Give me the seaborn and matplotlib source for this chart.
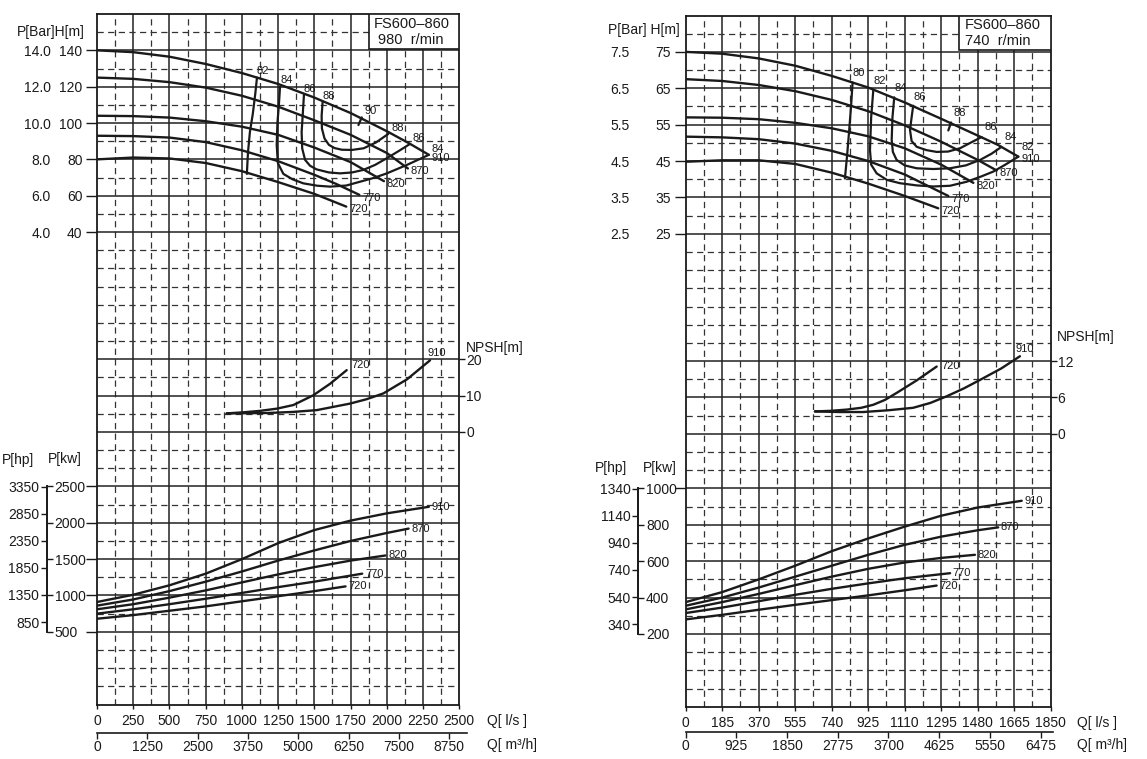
import numpy as np
import pandas as pd
import seaborn as sns
import matplotlib.pyplot as plt
from matplotlib.patches import Rectangle
from matplotlib.ticker import FormatStrFormatter

# ---------------- left chart, 980 r/min ----------------
L_H910_Q = [0, 250, 500, 750, 1000, 1250, 1500, 1750, 2000, 2150, 2290]
L_H910 = [140, 139, 136.5, 132.5, 127.5, 121.5, 114, 105.5, 95.5, 89, 82.5]
L_H870_Q = [0, 250, 500, 750, 1000, 1250, 1500, 1750, 2000, 2145]
L_H870 = [125, 124.3, 122.5, 119.5, 115, 109, 101.5, 93.5, 83.5, 75]
L_H820_Q = [0, 250, 500, 750, 1000, 1250, 1500, 1750, 1980]
L_H820 = [104, 103.8, 103, 101, 98, 93.5, 86.5, 78.5, 68]
L_H770_Q = [0, 250, 500, 750, 1000, 1250, 1500, 1650, 1810]
L_H770 = [93, 92.8, 92, 89.5, 85, 79, 71.5, 66.5, 60.5]
L_H720_Q = [0, 250, 500, 750, 1000, 1250, 1500, 1720]
L_H720 = [80, 81, 80.5, 78, 73.5, 67.5, 61, 54]

L_E82_Q = [1104, 1092, 1075, 1055, 1042, 1034]
L_E82 = [125, 116, 105, 95, 84, 72]
L_E84_Q = [1263, 1255, 1245, 1240, 1248, 1286, 1350, 1424, 1520, 1608, 1720, 1815, 1910, 2000, 2140, 2290]
L_E84 = [120, 110, 100, 88, 78, 72, 69, 66.8, 65.5, 65, 65.6, 67.7, 69.8, 72.3, 77, 82.5]
L_E86_Q = [1428, 1420, 1412, 1416, 1436, 1470, 1515, 1600, 1677, 1760, 1838, 1920, 1999, 2080, 2160]
L_E86 = [115.5, 105, 95, 86, 79.7, 76.5, 74.5, 72.8, 72.3, 72.8, 74.2, 77, 80.6, 84.5, 88.5]
L_E88_Q = [1557, 1550, 1552, 1570, 1600, 1640, 1690, 1760, 1840, 1925, 2010]
L_E88 = [111.7, 104, 97, 91.5, 88, 86.2, 85.3, 85.2, 86.1, 89.3, 94]
L_E90_Q = [1804, 1827]
L_E90 = [98.9, 103.1]

L_N720_Q = [895, 1010, 1125, 1240, 1355, 1493, 1610, 1723]
L_N720 = [5.1, 5.4, 5.8, 6.4, 7.4, 10.1, 13.3, 17]
L_N910_Q = [895, 1171, 1350, 1516, 1746, 1860, 1976, 2140, 2298]
L_N910 = [5.1, 5.2, 5.5, 6.0, 7.8, 9.0, 10.6, 14.5, 19.7]

L_P910_Q = [0, 250, 500, 750, 1000, 1250, 1500, 1750, 2000, 2290]
L_P910 = [910, 1010, 1140, 1300, 1500, 1720, 1900, 2030, 2130, 2220]
L_P870_Q = [0, 250, 500, 750, 1000, 1250, 1500, 1750, 2000, 2150]
L_P870 = [860, 945, 1060, 1190, 1330, 1480, 1620, 1750, 1860, 1920]
L_P820_Q = [0, 250, 500, 750, 1000, 1250, 1500, 1750, 1990]
L_P820 = [810, 880, 970, 1070, 1180, 1290, 1390, 1480, 1550]
L_P770_Q = [0, 250, 500, 750, 1000, 1250, 1500, 1830]
L_P770 = [750, 810, 880, 955, 1035, 1115, 1190, 1300]
L_P720_Q = [0, 250, 500, 750, 1000, 1250, 1500, 1715]
L_P720 = [680, 730, 790, 850, 920, 990, 1060, 1125]

L_Q_TICKS = [0, 250, 500, 750, 1000, 1250, 1500, 1750, 2000, 2250, 2500]
L_M3H_TICKS = [0, 1250, 2500, 3750, 5000, 6250, 7500, 8750]
L_H_TICKS = [140, 120, 100, 80, 60, 40]
L_BAR_TICKS = [14, 12, 10, 8, 6, 4]
L_NPSH_TICKS = [0, 10, 20]
L_KW_TICKS = [500, 1000, 1500, 2000, 2500]
L_HP_TICKS = [850, 1350, 1850, 2350, 2850, 3350]

# ---------------- right chart, 740 r/min ----------------
R_H910_Q = [0, 185, 370, 555, 740, 925, 1110, 1295, 1480, 1580, 1686]
R_H910 = [75, 74.5, 73.2, 71.2, 68.4, 65.2, 61.1, 56.6, 52, 49.5, 46.2]
R_H870_Q = [0, 185, 370, 555, 740, 925, 1110, 1295, 1480, 1576]
R_H870 = [67.5, 67, 65.9, 64.2, 61.8, 58.7, 54.8, 50.3, 45.3, 42.4]
R_H820_Q = [0, 185, 370, 555, 740, 925, 1110, 1295, 1458]
R_H820 = [57, 56.9, 56.5, 55.5, 54, 51.8, 48.5, 44, 39]
R_H770_Q = [0, 185, 370, 555, 740, 925, 1110, 1331]
R_H770 = [51.7, 51.5, 51, 49.8, 47.8, 45, 41.3, 35.4]
R_H720_Q = [0, 185, 370, 555, 740, 925, 1110, 1280]
R_H720 = [44.8, 45.2, 45.2, 44.2, 41.8, 38.8, 35.4, 32]

R_E80_Q = [846, 838, 828, 818, 807]
R_E80 = [66.6, 60, 53, 46.5, 40.2]
R_E82_Q = [951, 940, 934, 940, 968, 1020, 1086, 1170, 1255, 1340, 1424, 1500, 1559, 1620, 1686]
R_E82 = [64.6, 57, 48, 44, 41.6, 39.8, 38.9, 38.3, 38, 38.2, 39.3, 40.8, 42.1, 44, 46.2]
R_E84_Q = [1057, 1048, 1044, 1050, 1069, 1110, 1171, 1255, 1339, 1420, 1492, 1550, 1601]
R_E84 = [62.5, 57, 50.8, 47.5, 45.3, 43.8, 43, 42.8, 43, 43.8, 45.3, 47, 48.9]
R_E86_Q = [1153, 1145, 1137, 1145, 1171, 1220, 1272, 1330, 1390, 1450, 1500]
R_E86 = [60.2, 57, 53.5, 50.5, 48.9, 48, 47.5, 47.6, 48.5, 50.2, 51.6]
R_E88_Q = [1331, 1345]
R_E88 = [53.4, 55.6]

R_N720_Q = [655, 735, 816, 890, 951, 1010, 1069, 1170, 1272]
R_N720 = [3.7, 3.8, 4.0, 4.3, 4.8, 5.6, 6.75, 8.8, 11.1]
R_N910_Q = [655, 780, 900, 1030, 1153, 1240, 1323, 1410, 1492, 1600, 1694]
R_N910 = [3.7, 3.6, 3.6, 3.9, 4.3, 5.1, 6.2, 7.5, 8.9, 10.8, 12.8]

R_P910_Q = [0, 185, 370, 555, 740, 925, 1110, 1295, 1480, 1600, 1703]
R_P910 = [375, 430, 500, 575, 655, 725, 790, 850, 895, 915, 932]
R_P870_Q = [0, 185, 370, 555, 740, 925, 1110, 1295, 1480, 1584]
R_P870 = [355, 400, 455, 515, 575, 635, 690, 735, 770, 786]
R_P820_Q = [0, 185, 370, 555, 740, 925, 1110, 1295, 1466]
R_P820 = [335, 375, 420, 468, 515, 558, 593, 618, 635]
R_P770_Q = [0, 185, 370, 555, 740, 925, 1110, 1340]
R_P770 = [315, 345, 380, 415, 448, 478, 506, 534]
R_P720_Q = [0, 185, 370, 555, 740, 925, 1110, 1272]
R_P720 = [280, 305, 333, 360, 386, 412, 440, 466]

R_Q_TICKS = [0, 185, 370, 555, 740, 925, 1110, 1295, 1480, 1665, 1850]
R_M3H_TICKS = [0, 925, 1850, 2775, 3700, 4625, 5550, 6475]
R_H_TICKS = [75, 65, 55, 45, 35, 25]
R_BAR_TICKS = [7.5, 6.5, 5.5, 4.5, 3.5, 2.5]
R_NPSH_TICKS = [0, 6, 12]
R_KW_TICKS = [200, 400, 600, 800, 1000]
R_HP_TICKS = [340, 540, 740, 940, 1140, 1340]

HP_PER_KW = 1.341
M3H_PER_LS = 3.6

sns.set_theme(style='white')
plt.rcParams['font.family'] = ['Liberation Sans', 'DejaVu Sans']

W, HT = 1147, 759
fig = plt.figure(figsize=(W / 100, HT / 100), dpi=100)

INK = '#1a1a1a'
FS = 10
FSS = 8
ROWS = 38
SOLID_ROWS = {2, 4, 6, 8, 10, 12, 19, 21, 23, 26, 28, 30, 32, 34}


def ftext(x, y, s, **kw):
    fig.text(x / W, 1 - y / HT, s, color=INK, **kw)


def curves_df(curves):
    parts = [pd.DataFrame({'curve': k, 'Q': q, 'v': v}) for k, (q, v) in curves.items()]
    return pd.concat(parts, ignore_index=True)


def draw_lines(ax, curves, lw=1.7):
    sns.lineplot(data=curves_df(curves), x='Q', y='v', units='curve', estimator=None,
                 sort=False, color=INK, lw=lw, legend=False, ax=ax)
    ax.set_xlabel('')
    ax.set_ylabel('')


def tag(ax, curves, where, dx, dy, va='center'):
    for k, (q, v) in curves.items():
        i = -1 if where == 'end' else 0
        ax.annotate(k, (q[i], v[i]), xytext=(dx, dy), textcoords='offset points',
                    fontsize=FSS, ha='left', va=va, color=INK)


def chart(s):
    x0, y0, x1, y1 = s['px']
    pos = [x0 / W, 1 - y1 / HT, (x1 - x0) / W, (y1 - y0) / HT]
    qmax = s['q_ticks'][-1]
    axH = fig.add_axes(pos)
    axN = fig.add_axes(pos)
    axP = fig.add_axes(pos)

    draw_lines(axH, s['head'])
    draw_lines(axH, s['eff'], lw=1.6)
    draw_lines(axN, s['npsh'])
    draw_lines(axP, s['power'])

    htop, hstep = s['htop'], s['hstep']
    axH.set_ylim(htop - ROWS * hstep, htop)
    axN.set_ylim(-15 * s['nstep'], 23 * s['nstep'])
    axP.set_ylim(s['pbase'] - 4 * s['pstep'], s['pbase'] + 34 * s['pstep'])
    for ax in (axH, axN, axP):
        ax.set_xlim(0, qmax)
    for ax in (axN, axP):
        ax.patch.set_visible(False)
        for sp in ax.spines.values():
            sp.set_visible(False)
        ax.tick_params(bottom=False, labelbottom=False, left=False, labelleft=False)

    # grid: solid every major step, dashed between
    qt = s['q_ticks']
    half = (qt[1] - qt[0]) / 2
    for q in qt[1:-1]:
        axH.axvline(q, color='#222', lw=1.1, zorder=1)
    for q in qt[:-1]:
        axH.axvline(q + half, color='#333', lw=0.9, ls=(0, (5, 3.5)), zorder=1)
    for r in range(1, ROWS):
        y = htop - r * hstep
        if r in SOLID_ROWS:
            axH.axhline(y, color='#222', lw=1.1, zorder=1)
        else:
            axH.axhline(y, color='#333', lw=0.9, ls=(0, (5, 3.5)), zorder=1)
    for sp in axH.spines.values():
        sp.set_visible(True)
        sp.set_color(INK)
        sp.set_linewidth(1.3)

    # model box
    qb = qmax * 0.75
    hb = htop - 1.9 * hstep
    axH.add_patch(Rectangle((qb, hb), qmax - qb, htop - hb, facecolor='white',
                            edgecolor=INK, lw=1.2, zorder=3))

    # head axis + bar labels
    axH.set_yticks(s['h_ticks'])
    axH.tick_params(axis='y', left=True, length=s['htick'], width=1, color=INK,
                    pad=2.5, labelsize=FS, labelcolor=INK)
    bar = axH.secondary_yaxis(s['bar_loc'], functions=(lambda h: h / 10, lambda b: b * 10))
    bar.set_yticks(s['bar_ticks'])
    bar.yaxis.set_major_formatter(FormatStrFormatter('%.1f'))
    bar.tick_params(length=0, pad=0, labelsize=FS, labelcolor=INK)
    bar.spines['left'].set_visible(False)

    # flow axes
    axH.set_xticks(qt)
    axH.tick_params(axis='x', bottom=True, length=3, width=1, color=INK, pad=3.5,
                    labelsize=FS, labelcolor=INK)
    m3 = axH.secondary_xaxis(s['m3_loc'], functions=(lambda q: q * M3H_PER_LS,
                                                    lambda m: m / M3H_PER_LS))
    m3.set_xticks(s['m3_ticks'])
    m3.spines['bottom'].set_bounds(0, s['m3_end'])
    m3.spines['bottom'].set_linewidth(1.2)
    m3.spines['bottom'].set_color(INK)
    m3.tick_params(length=4, width=1, color=INK, pad=0.5, labelsize=FS, labelcolor=INK)

    # NPSH axis
    axN.set_yticks(s['npsh_ticks'])
    axN.tick_params(axis='y', right=True, labelright=True, length=4, width=1,
                    color=INK, pad=1, labelsize=FS, labelcolor=INK)

    # power axes: grid-side ticks, then kW / hp bracket
    kw_t = s['kw_ticks']
    axP.set_yticks(s['kw_grid_ticks'])
    axP.tick_params(axis='y', left=True, labelleft=False, length=8, width=1, color=INK)
    kw = axP.secondary_yaxis(s['brk_loc'])
    kw.set_alignment('right')
    kw.set_yticks(kw_t)
    kw.spines['right'].set_bounds(kw_t[0], kw_t[-1])
    kw.spines['right'].set_color(INK)
    kw.tick_params(direction='out', length=4.5, width=1, color=INK, pad=1,
                   labelsize=FS, labelcolor=INK)
    hp = axP.secondary_yaxis(s['brk_loc'], functions=(lambda p: p * HP_PER_KW,
                                                     lambda h: h / HP_PER_KW))
    hp.set_yticks(s['hp_ticks'])
    hp.spines['left'].set_bounds(kw_t[0] * HP_PER_KW, kw_t[-1] * HP_PER_KW)
    hp.spines['left'].set_color(INK)
    hp.tick_params(direction='out', length=4.5, width=1, color=INK, pad=1,
                   labelsize=FS, labelcolor=INK)

    # curve tags
    tag(axH, s['head'], 'end', 2, -2)
    tag(axH, s['eff_top'], 'start', 0, s['top_dy'])
    tag(axH, s['eff_end'], 'end', 2, s['end_dy'])
    for k, (q, v) in s['npsh'].items():
        dx, dy = s['npsh_off'][k]
        axN.annotate(k, (q[-1], v[-1]), xytext=(dx, dy), textcoords='offset points',
                     fontsize=FSS, ha='left', va='center', color=INK)
    tag(axP, s['power'], 'end', 2, 0)


left = dict(
    px=(97, 14, 459.3, 704.5), q_ticks=L_Q_TICKS, m3_ticks=L_M3H_TICKS, m3_end=9190,
    m3_loc=-0.0417, htop=160, hstep=10, nstep=5, pstep=250, pbase=500,
    h_ticks=L_H_TICKS, bar_ticks=L_BAR_TICKS, bar_loc=-0.128, htick=8,
    npsh_ticks=L_NPSH_TICKS, kw_ticks=L_KW_TICKS, kw_grid_ticks=L_KW_TICKS,
    hp_ticks=L_HP_TICKS, brk_loc=-0.138,
    head={'910': (L_H910_Q, L_H910), '870': (L_H870_Q, L_H870), '820': (L_H820_Q, L_H820),
          '770': (L_H770_Q, L_H770), '720': (L_H720_Q, L_H720)},
    eff={'82': (L_E82_Q, L_E82), '84': (L_E84_Q, L_E84), '86': (L_E86_Q, L_E86),
         '88': (L_E88_Q, L_E88), '90': (L_E90_Q, L_E90)},
    eff_top={'82': (L_E82_Q, L_E82), '84': (L_E84_Q, L_E84), '86': (L_E86_Q, L_E86),
             '88': (L_E88_Q, L_E88)},
    eff_end={'84': (L_E84_Q, L_E84), '86': (L_E86_Q, L_E86), '88': (L_E88_Q, L_E88),
             '90': (L_E90_Q, L_E90)},
    top_dy=4.5, end_dy=4.5,
    npsh={'910': (L_N910_Q, L_N910), '720': (L_N720_Q, L_N720)},
    npsh_off={'910': (-2, 5), '720': (3.5, 3.5)},
    power={'910': (L_P910_Q, L_P910), '870': (L_P870_Q, L_P870), '820': (L_P820_Q, L_P820),
           '770': (L_P770_Q, L_P770), '720': (L_P720_Q, L_P720)},
)

right = dict(
    px=(685.7, 15.5, 1050.7, 706.7), q_ticks=R_Q_TICKS, m3_ticks=R_M3H_TICKS, m3_end=6700,
    m3_loc=-0.037, htop=85, hstep=5, nstep=3, pstep=100, pbase=200,
    h_ticks=R_H_TICKS, bar_ticks=R_BAR_TICKS, bar_loc=-0.153, htick=8,
    npsh_ticks=R_NPSH_TICKS, kw_ticks=R_KW_TICKS, kw_grid_ticks=[1000],
    hp_ticks=R_HP_TICKS, brk_loc=-0.13,
    head={'910': (R_H910_Q, R_H910), '870': (R_H870_Q, R_H870), '820': (R_H820_Q, R_H820),
          '770': (R_H770_Q, R_H770), '720': (R_H720_Q, R_H720)},
    eff={'80': (R_E80_Q, R_E80), '82': (R_E82_Q, R_E82), '84': (R_E84_Q, R_E84),
         '86': (R_E86_Q, R_E86), '88': (R_E88_Q, R_E88)},
    eff_top={'80': (R_E80_Q, R_E80), '82': (R_E82_Q, R_E82), '84': (R_E84_Q, R_E84),
             '86': (R_E86_Q, R_E86)},
    eff_end={'82': (R_E82_Q, R_E82), '84': (R_E84_Q, R_E84), '86': (R_E86_Q, R_E86),
             '88': (R_E88_Q, R_E88)},
    top_dy=6.5, end_dy=7,
    npsh={'910': (R_N910_Q, R_N910), '720': (R_N720_Q, R_N720)},
    npsh_off={'910': (-3.5, 5), '720': (3.5, 0.5)},
    power={'910': (R_P910_Q, R_P910), '870': (R_P870_Q, R_P870), '820': (R_P820_Q, R_P820),
           '770': (R_P770_Q, R_P770), '720': (R_P720_Q, R_P720)},
)

chart(left)
chart(right)

# axis titles and model boxes
ftext(17, 32, 'P[Bar]H[m]', fontsize=FS, va='center')
ftext(2, 460, 'P[hp]', fontsize=FS, va='center')
ftext(48, 459, 'P[kw]', fontsize=FS, va='center')
ftext(466, 348, 'NPSH[m]', fontsize=FS, va='center')
ftext(487, 721, 'Q[ l/s ]', fontsize=FS, va='center')
ftext(487, 745, 'Q[ m³/h]', fontsize=FS, va='center')
ftext(374, 24, 'FS600–860', fontsize=10.5, va='center')
ftext(378, 40, '980  r/min', fontsize=10.5, va='center')

ftext(608, 30, 'P[Bar] H[m]', fontsize=FS, va='center')
ftext(595, 468, 'P[hp]', fontsize=FS, va='center')
ftext(643, 468, 'P[kw]', fontsize=FS, va='center')
ftext(1057, 337, 'NPSH[m]', fontsize=FS, va='center')
ftext(1077, 723, 'Q[ l/s ]', fontsize=FS, va='center')
ftext(1077, 745, 'Q[ m³/h]', fontsize=FS, va='center')
ftext(965, 25, 'FS600–860', fontsize=10.5, va='center')
ftext(965, 41, '740  r/min', fontsize=10.5, va='center')

fig.savefig('out.png', dpi=100, facecolor='white')
